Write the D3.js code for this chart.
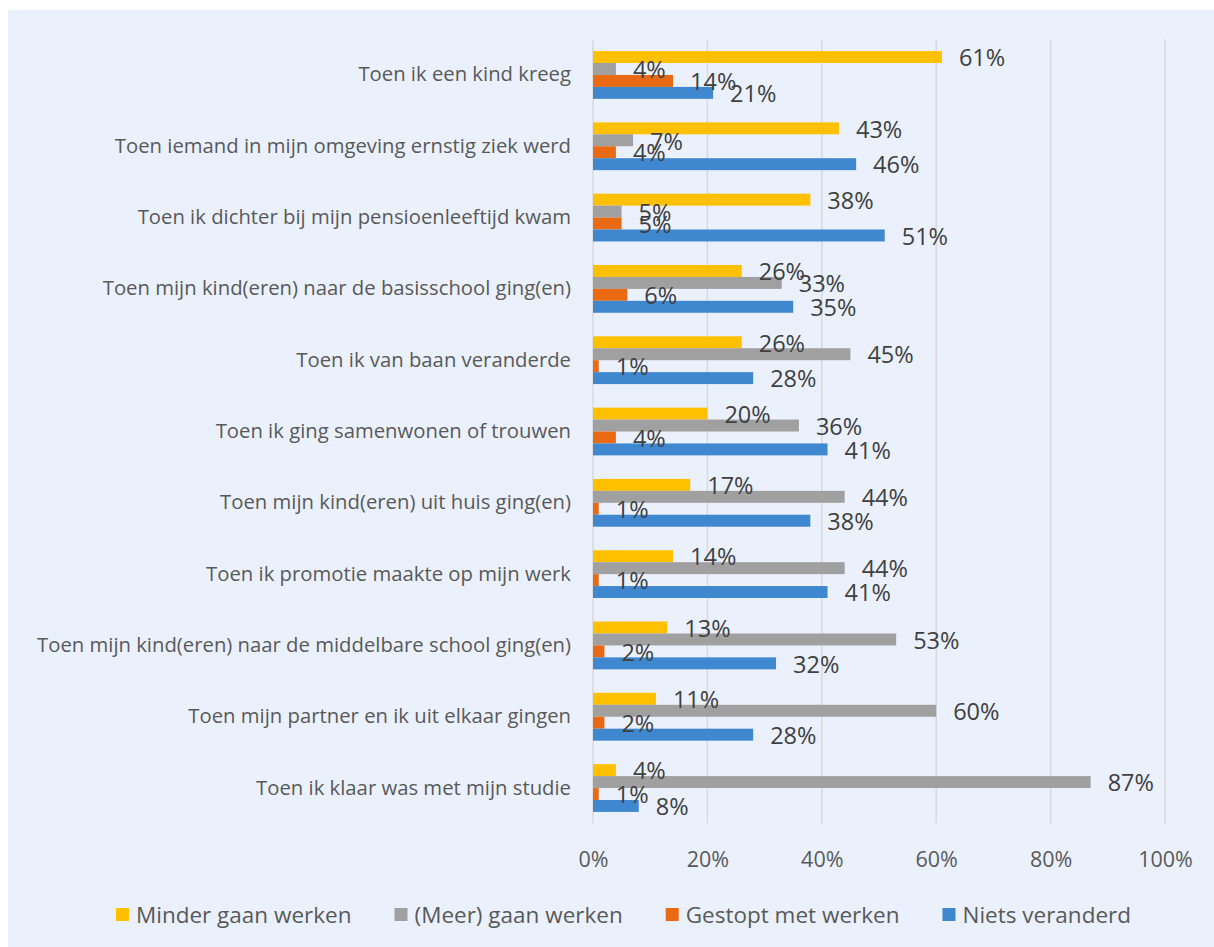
<!DOCTYPE html>
<html>
<head>
<meta charset="utf-8">
<script src="https://cdn.jsdelivr.net/npm/d3@7"></script>
<style>
  html, body { margin: 0; padding: 0; background: #ffffff; }
  svg { display: block; }
  text { font-family: "Open Sans", "Noto Sans", sans-serif; }
</style>
</head>
<body>
<svg id="chart" width="1214" height="947"></svg>
<script>
const categories = [
  "Toen ik een kind kreeg",
  "Toen iemand in mijn omgeving ernstig ziek werd",
  "Toen ik dichter bij mijn pensioenleeftijd kwam",
  "Toen mijn kind(eren) naar de basisschool ging(en)",
  "Toen ik van baan veranderde",
  "Toen ik ging samenwonen of trouwen",
  "Toen mijn kind(eren) uit huis ging(en)",
  "Toen ik promotie maakte op mijn werk",
  "Toen mijn kind(eren) naar de middelbare school ging(en)",
  "Toen mijn partner en ik uit elkaar gingen",
  "Toen ik klaar was met mijn studie"
];
const seriesNames = ["Minder gaan werken", "(Meer) gaan werken", "Gestopt met werken", "Niets veranderd"];
const minderGaanWerken = [61, 43, 38, 26, 26, 20, 17, 14, 13, 11, 4];
const meerGaanWerken   = [4, 7, 5, 33, 45, 36, 44, 44, 53, 60, 87];
const gestoptMetWerken = [14, 4, 5, 6, 1, 4, 1, 1, 2, 2, 1];
const nietsVeranderd   = [21, 46, 51, 35, 28, 41, 38, 41, 32, 28, 8];
const seriesValues = [minderGaanWerken, meerGaanWerken, gestoptMetWerken, nietsVeranderd];
const xTicks = [0, 20, 40, 60, 80, 100];
const colors = ["#FFC000", "#A0A0A0", "#E96A12", "#3F87CE"];

const svg = d3.select("#chart");

// panel background
svg.append("rect").attr("x", 8).attr("y", 10).attr("width", 1206).attr("height", 937).attr("fill", "#EAF1FD");

const x = d3.scaleLinear().domain([0, 100]).range([593, 1165]);
const y0 = d3.scaleBand().domain(categories).range([39.3, 823.7]).paddingInner(0.33).paddingOuter(0.165);
const y1 = d3.scaleBand().domain(seriesNames).range([0, y0.bandwidth()]);

// gridlines
svg.append("g").selectAll("line").data(xTicks).join("line")
  .attr("x1", d => x(d)).attr("x2", d => x(d))
  .attr("y1", 39.3).attr("y2", 823.7)
  .attr("stroke", "#D9D9D9").attr("stroke-width", 1.5);

// x axis tick labels
const xAxis = d3.axisBottom(x).tickValues(xTicks).tickFormat(d => d + "%").tickSize(0).tickPadding(0);
const gx = svg.append("g").attr("transform", "translate(0,852)").call(xAxis);
gx.select(".domain").remove();
gx.selectAll("text").attr("font-size", 21.5).attr("fill", "#595959")
  .attr("font-family", "'Open Sans', 'Noto Sans', sans-serif");

// category labels
const yAxis = d3.axisLeft(y0).tickSize(0).tickPadding(0);
const gy = svg.append("g").attr("transform", "translate(571,0)").call(yAxis);
gy.select(".domain").remove();
gy.selectAll("text").attr("font-size", 20.3).attr("fill", "#595959")
  .attr("font-family", "'Open Sans', 'Noto Sans', sans-serif");

// bars
const groups = svg.append("g").selectAll("g").data(categories).join("g")
  .attr("transform", c => `translate(0,${y0(c)})`);

groups.each(function(c, i) {
  const g = d3.select(this);
  seriesNames.forEach((s, j) => {
    const v = seriesValues[j][i];
    g.append("rect")
      .attr("x", x(0)).attr("y", y1(s))
      .attr("width", x(v) - x(0)).attr("height", y1.bandwidth())
      .attr("fill", colors[j]);
  });
});
groups.each(function(c, i) {
  const g = d3.select(this);
  seriesNames.forEach((s, j) => {
    const v = seriesValues[j][i];
    g.append("text")
      .attr("x", x(v) + 17).attr("y", y1(s) + y1.bandwidth() / 2 + 1)
      .attr("dy", "0.35em")
      .attr("font-size", 23.5).attr("fill", "#404040")
      .text(v + "%");
  });
});

// legend
const legend = svg.append("g").attr("transform", "translate(0,915)");
const items = legend.selectAll("g").data(seriesNames).join("g");
items.append("rect").attr("width", 13).attr("height", 13).attr("y", -7).attr("fill", (d, j) => colors[j]);
items.append("text").attr("x", 20).attr("dy", "0.35em").attr("font-size", 22.5).attr("fill", "#595959").text(d => d);
let widths = [];
items.each(function() { widths.push(20 + d3.select(this).select("text").node().getComputedTextLength()); });
const gap = 43;
const total = d3.sum(widths) + gap * (widths.length - 1);
let cx = 623.5 - total / 2;
items.each(function(d, j) {
  d3.select(this).attr("transform", `translate(${cx},0)`);
  cx += widths[j] + gap;
});
</script>
</body>
</html>
